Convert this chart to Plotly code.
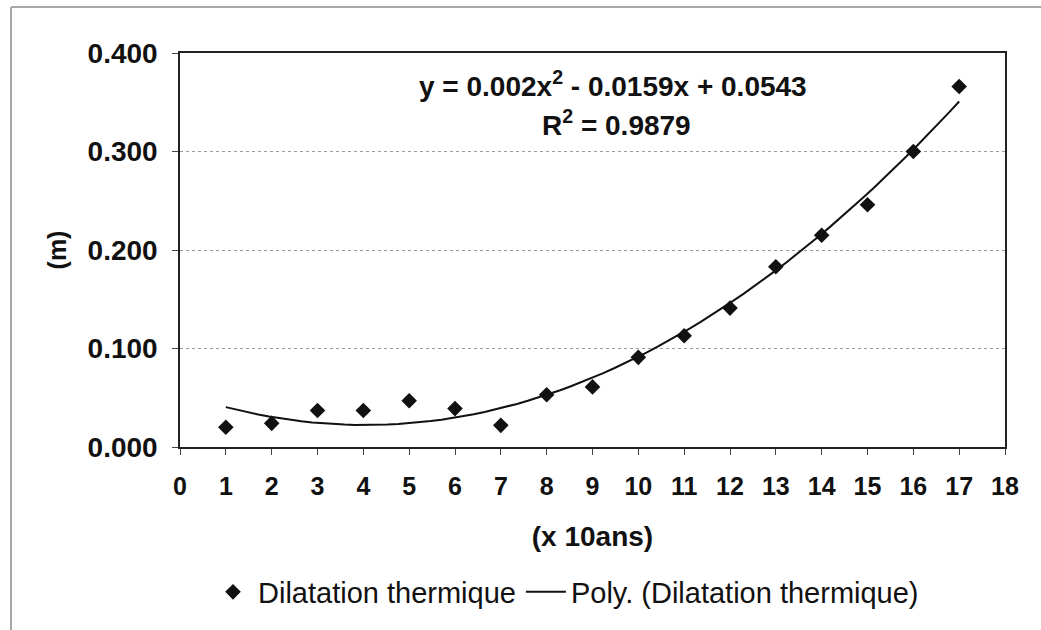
import numpy as np
import plotly.graph_objects as go

# Data
x_vals = [1, 2, 3, 4, 5, 6, 7, 8, 9, 10, 11, 12, 13, 14, 15, 16, 17]
y_vals = [0.020, 0.024, 0.037, 0.037, 0.047, 0.039, 0.022, 0.053, 0.061,
          0.091, 0.113, 0.141, 0.183, 0.215, 0.246, 0.300, 0.366]
series_name = "Dilatation thermique"
trend_name = "Poly. (Dilatation thermique)"
equation_text = "y = 0.002x<sup>2</sup> - 0.0159x + 0.0543"
r2_text = "R<sup>2</sup> = 0.9879"
x_ticks = list(range(0, 19))
y_ticks = [0.0, 0.1, 0.2, 0.3, 0.4]

# Polynomial trend line (order 2) fitted to the data
coef = np.polyfit(x_vals, y_vals, 2)
xt = np.linspace(min(x_vals), max(x_vals), 17 * 4 + 1)
yt = np.polyval(coef, xt)

FONT = "Liberation Sans, Arial, sans-serif"
INK = "#111111"

fig = go.Figure()
fig.add_trace(go.Scatter(
    x=x_vals, y=y_vals, mode="markers", name=series_name,
    marker=dict(symbol="diamond", size=12, color=INK),
))
fig.add_trace(go.Scatter(
    x=xt, y=yt, mode="lines", name=trend_name,
    line=dict(color=INK, width=2),
))

L, R, T, B = 180, 36, 53, 183
W, H = 1041, 630
pw, ph = W - L - R, H - T - B

fig.update_layout(
    width=W, height=H,
    margin=dict(l=L, r=R, t=T, b=B),
    paper_bgcolor="white", plot_bgcolor="white",
    font=dict(family=FONT, color=INK),
    showlegend=True,
    legend=dict(
        orientation="h", x=(566 - L) / pw, y=(H - 592 - B) / ph,
        xanchor="center", yanchor="middle",
        font=dict(family=FONT, size=29, color=INK),
        itemwidth=40, tracegroupgap=0,
    ),
    xaxis=dict(
        range=[0, 18], tickmode="array", tickvals=x_ticks,
        ticktext=[str(v) for v in x_ticks],
        showgrid=False, zeroline=False,
        showline=True, linecolor="#222222", linewidth=1.5, mirror=True,
        ticks="outside", ticklen=6, tickcolor="#444444", tickwidth=1,
        tickfont=dict(family=FONT, size=25, weight="bold", color=INK),
        ticklabelstandoff=10,
        title=dict(text="(x 10ans)", font=dict(family=FONT, size=28, weight="bold", color=INK),
                   standoff=28),
    ),
    yaxis=dict(
        range=[0, 0.4], tickmode="array", tickvals=y_ticks,
        ticktext=[f"{v:.3f}" for v in y_ticks],
        showgrid=True, gridcolor="#9a9a9a", griddash="dot", gridwidth=1,
        zeroline=False,
        showline=True, linecolor="#222222", linewidth=1.5, mirror=True,
        ticks="outside", ticklen=6, tickcolor="#444444", tickwidth=1,
        tickfont=dict(family=FONT, size=28, weight="bold", color=INK),
        ticklabelstandoff=9,
        title=dict(text="(m)", font=dict(family=FONT, size=25, weight="bold", color=INK),
                   standoff=14),
    ),
)

# Trendline equation labels
fig.add_annotation(x=(613 - L) / pw, y=(H - 64 - B) / ph, xref="paper", yref="paper",
                   text=equation_text, showarrow=False,
                   font=dict(family=FONT, size=28, weight="bold", color=INK))
fig.add_annotation(x=(616 - L) / pw, y=(H - 103 - B) / ph, xref="paper", yref="paper",
                   text=r2_text, showarrow=False,
                   font=dict(family=FONT, size=28, weight="bold", color=INK))

# Outer chart frame (left and top edges visible)
fx0 = (11 - L) / pw
fy1 = (H - 7 - B) / ph
fig.add_shape(type="line", xref="paper", yref="paper", x0=fx0, x1=fx0, y0=fy1, y1=-B / ph - 0.05,
              line=dict(color="#a8a8a8", width=2))
fig.add_shape(type="line", xref="paper", yref="paper", x0=fx0, x1=1 + R / pw + 0.05, y0=fy1, y1=fy1,
              line=dict(color="#a8a8a8", width=2))

fig.write_html("out.html")
